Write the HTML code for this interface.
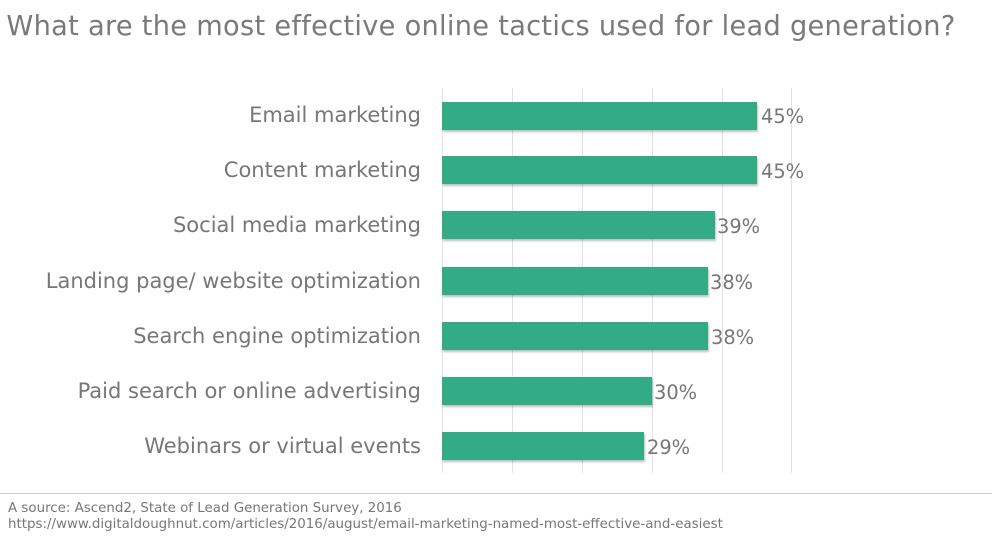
<!DOCTYPE html>
<html><head><style>
body{margin:0;width:992px;height:543px;background:#fff;overflow:hidden;font-family:"DejaVu Sans","Liberation Sans",sans-serif;position:relative}
.t{position:absolute;left:0;top:11px;width:962px;text-align:center;font-size:27.2px;color:#7a7a7a;letter-spacing:0.3px}
.g{position:absolute;top:88px;height:385px;width:1px;background:#e2e2e2}
.l{position:absolute;right:571px;font-size:21px;color:#777;white-space:nowrap}
.b{position:absolute;left:442px;height:28px;background:#33ab84;box-shadow:1px 2px 2px rgba(0,0,0,.25)}
.v{position:absolute;font-size:19.4px;color:#777}
.f{position:absolute;left:8px;font-size:13.4px;color:#777}
</style></head><body>
<div class="t">What are the most effective online tactics used for lead generation?</div>
<div class="g" style="left:442px"></div><div class="g" style="left:512px"></div><div class="g" style="left:582px"></div><div class="g" style="left:652px"></div><div class="g" style="left:722px"></div><div class="g" style="left:791px"></div>

<div class="l" style="top:103px">Email marketing</div><div class="b" style="top:102px;width:315px"></div><div class="v" style="left:761px;top:105px">45%</div>
<div class="l" style="top:158px">Content marketing</div><div class="b" style="top:156px;width:315px"></div><div class="v" style="left:761px;top:160px">45%</div>
<div class="l" style="top:213px">Social media marketing</div><div class="b" style="top:211px;width:273px"></div><div class="v" style="left:717px;top:215px">39%</div>
<div class="l" style="top:269px">Landing page/ website optimization</div><div class="b" style="top:267px;width:266px"></div><div class="v" style="left:710px;top:271px">38%</div>
<div class="l" style="top:324px">Search engine optimization</div><div class="b" style="top:322px;width:266px"></div><div class="v" style="left:711px;top:326px">38%</div>
<div class="l" style="top:379px">Paid search or online advertising</div><div class="b" style="top:377px;width:210px"></div><div class="v" style="left:654px;top:381px">30%</div>
<div class="l" style="top:434px">Webinars or virtual events</div><div class="b" style="top:432px;width:202px"></div><div class="v" style="left:647px;top:436px">29%</div>

<div style="position:absolute;left:0;top:493px;width:992px;height:1px;background:#ccc"></div>
<div class="f" style="top:501px">A source: Ascend2, State of Lead Generation Survey, 2016</div>
<div class="f" style="top:517px">https://www.digitaldoughnut.com/articles/2016/august/email-marketing-named-most-effective-and-easiest</div>
</body></html>
